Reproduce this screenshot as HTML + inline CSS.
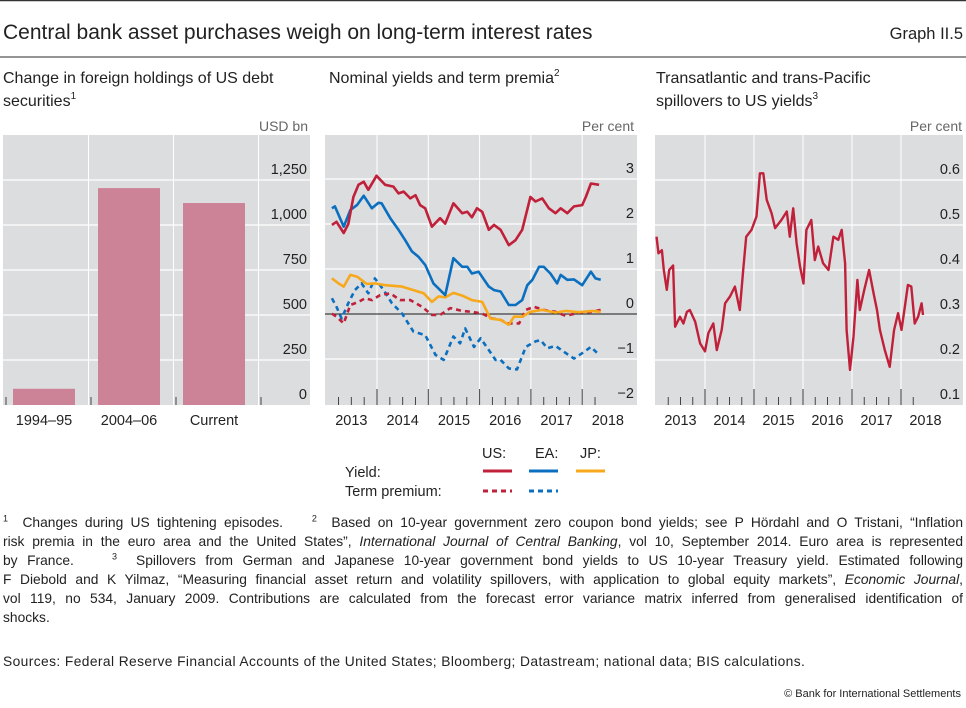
<!DOCTYPE html>
<html><head><meta charset="utf-8"><style>
body{margin:0;width:966px;height:708px;background:#fff;font-family:"Liberation Sans",sans-serif;color:#222;overflow:hidden;position:relative}
svg{position:absolute;left:0;top:0}
.fl{position:absolute;left:3px;width:960px;font-size:13.8px;line-height:19px;height:19px;white-space:nowrap;text-align:justify;text-align-last:justify}
.fl.last{text-align-last:left}
.fl sup{font-size:9px;line-height:0}
</style></head><body>
<svg width="966" height="708" font-family="Liberation Sans, sans-serif">
<line x1="0" y1="0.5" x2="966" y2="0.5" stroke="#333" stroke-width="1.5"/>
<text x="3" y="39" font-size="21" fill="#222">Central bank asset purchases weigh on long-term interest rates</text>
<text x="963" y="39" font-size="16.5" text-anchor="end" fill="#222">Graph II.5</text>
<line x1="0" y1="57" x2="966" y2="57" stroke="#555" stroke-width="1.2"/>
<g font-size="16" fill="#222">
<text x="3" y="83">Change in foreign holdings of US debt</text>
<text x="3" y="106">securities<tspan font-size="10" dy="-7">1</tspan></text>
<text x="329" y="83">Nominal yields and term premia<tspan font-size="10" dy="-7">2</tspan></text>
<text x="656" y="83">Transatlantic and trans-Pacific</text>
<text x="656" y="106">spillovers to US yields<tspan font-size="10" dy="-7">3</tspan></text>
</g>
<g font-size="14" fill="#666" text-anchor="end">
<text x="308" y="131">USD bn</text>
<text x="634" y="131">Per cent</text>
<text x="962" y="131">Per cent</text>
</g>
<g id="p1"></g><g id="p2"></g><g id="p3"></g>
<g font-size="14.5" fill="#222">
<text x="482" y="458">US:</text>
<text x="535" y="458">EA:</text>
<text x="580" y="458">JP:</text>
<text x="345" y="477">Yield:</text>
<text x="345" y="496">Term premium:</text>
<line x1="483" y1="471" x2="512" y2="471" stroke="#c0203a" stroke-width="3"/>
<line x1="529" y1="471" x2="558" y2="471" stroke="#0b6fc0" stroke-width="3"/>
<line x1="576" y1="471" x2="605" y2="471" stroke="#f7a81b" stroke-width="3"/>
<line x1="483" y1="491" x2="512" y2="491" stroke="#c0203a" stroke-width="3" stroke-dasharray="5,4"/>
<line x1="529" y1="491" x2="558" y2="491" stroke="#0b6fc0" stroke-width="3" stroke-dasharray="5,4"/>
</g>
<text x="961" y="697" font-size="11" text-anchor="end" fill="#222">© Bank for International Settlements</text>
</svg>
<div>
<div class="fl" style="top:513px"><sup>1</sup>&nbsp; Changes during US tightening episodes.&nbsp;&nbsp;&nbsp; <sup>2</sup>&nbsp; Based on 10-year government zero coupon bond yields; see P Hördahl and O Tristani, “Inflation</div>
<div class="fl" style="top:532px">risk premia in the euro area and the United States”, <i>International Journal of Central Banking</i>, vol 10, September 2014. Euro area is represented</div>
<div class="fl" style="top:551px">by France.&nbsp;&nbsp;&nbsp; <sup>3</sup>&nbsp; Spillovers from German and Japanese 10-year government bond yields to US 10-year Treasury yield. Estimated following</div>
<div class="fl" style="top:570px">F Diebold and K Yilmaz, “Measuring financial asset return and volatility spillovers, with application to global equity markets”, <i>Economic Journal</i>,</div>
<div class="fl" style="top:589px">vol 119, no 534, January 2009. Contributions are calculated from the forecast error variance matrix inferred from generalised identification of</div>
<div class="fl last" style="top:608px">shocks.</div>
</div>
<div class="fl last" style="top:652px;letter-spacing:0.4px">Sources: Federal Reserve Financial Accounts of the United States; Bloomberg; Datastream; national data; BIS calculations.</div>
<script>
const NS="http://www.w3.org/2000/svg";
// Panel 1 data
const barCats=["1994–95","2004–06","Current"];
const barVals=[90,1205,1122];
const p1Ticks=[0,250,500,750,1000,1250];
const p1TickLabels=["0","250","500","750","1,000","1,250"];
// Panel 2 data (t = years since start of 2013)
const usT=[0.12,0.21,0.35,0.44,0.54,0.64,0.74,0.83,0.99,1.16,1.32,1.42,1.52,1.65,1.75,1.84,1.94,2.07,2.23,2.33,2.49,2.66,2.76,2.85,2.95,3.05,3.18,3.28,3.41,3.57,3.70,3.83,3.99,4.09,4.22,4.35,4.48,4.58,4.71,4.84,5.00,5.07,5.17,5.33];
const usYield=[1.98,2.05,1.8,2.0,2.6,2.87,2.94,2.76,3.07,2.87,2.83,2.68,2.72,2.57,2.64,2.42,2.35,1.94,2.13,2.01,2.46,2.24,2.27,2.15,2.35,2.27,1.87,1.98,1.87,1.53,1.64,1.87,2.6,2.5,2.57,2.35,2.24,2.35,2.24,2.39,2.42,2.6,2.9,2.87];
const eaT=[0.12,0.18,0.35,0.48,0.61,0.74,0.90,1.03,1.09,1.26,1.42,1.55,1.68,1.81,1.94,2.10,2.33,2.49,2.66,2.76,2.85,2.98,3.18,3.28,3.41,3.57,3.70,3.83,3.93,4.03,4.16,4.25,4.38,4.51,4.58,4.71,4.84,5.00,5.17,5.26,5.36];
const eaYield=[2.35,2.39,1.94,2.31,2.42,2.63,2.35,2.47,2.46,2.13,1.87,1.64,1.39,1.27,1.09,0.68,0.42,1.24,1.05,1.05,0.9,0.94,0.61,0.53,0.5,0.2,0.2,0.31,0.64,0.76,1.05,1.05,0.9,0.68,0.87,0.76,0.77,0.64,0.94,0.79,0.76];
const jpT=[0.12,0.25,0.35,0.48,0.61,0.80,0.96,1.16,1.49,1.71,1.91,2.07,2.20,2.33,2.49,2.66,2.85,3.05,3.21,3.41,3.57,3.67,3.83,3.99,4.22,4.48,4.68,4.94,5.20,5.36];
const jpYield=[0.79,0.68,0.61,0.87,0.83,0.67,0.68,0.64,0.61,0.53,0.46,0.27,0.39,0.37,0.47,0.41,0.31,0.27,-0.1,-0.13,-0.24,-0.06,-0.06,0.05,0.09,0.03,0.07,0.04,0.07,0.05];
const usTpT=[0.12,0.21,0.35,0.48,0.64,0.77,0.90,1.06,1.26,1.45,1.65,1.88,2.07,2.23,2.43,2.66,2.85,3.05,3.24,3.41,3.54,3.77,3.90,4.06,4.25,4.48,4.68,4.94,5.20,5.36];
const usPremium=[0.01,-0.06,-0.21,0.2,0.27,0.35,0.31,0.42,0.46,0.31,0.31,0.16,-0.02,-0.02,0.13,0.07,0.05,0.01,-0.1,-0.13,-0.21,-0.21,0.09,0.16,0.09,0.05,-0.04,0.03,0.05,0.09];
const eaTpT=[0.12,0.21,0.31,0.44,0.57,0.70,0.83,0.96,1.13,1.29,1.49,1.71,1.94,2.14,2.30,2.49,2.62,2.72,2.89,3.02,3.18,3.31,3.41,3.57,3.73,3.90,4.09,4.19,4.32,4.48,4.68,4.84,5.04,5.17,5.33];
const eaPremium=[0.35,0.16,-0.1,0.24,0.53,0.68,0.46,0.79,0.53,0.24,0.01,-0.39,-0.47,-0.91,-1.02,-0.5,-0.65,-0.32,-0.73,-0.54,-0.8,-1.02,-1.02,-1.21,-1.23,-0.73,-0.61,-0.58,-0.76,-0.71,-0.87,-0.99,-0.84,-0.73,-0.91];
const p2Ticks=[-2,-1,0,1,2,3];
const p2TickLabels=["−2","−1","0","1","2","3"];
const yearLabels=["2013","2014","2015","2016","2017","2018"];
// Panel 3 data
const spT=[0.01,0.05,0.12,0.16,0.22,0.27,0.35,0.39,0.49,0.56,0.63,0.69,0.80,0.90,1.00,1.07,1.17,1.24,1.34,1.41,1.51,1.61,1.71,1.78,1.84,1.95,2.05,2.12,2.19,2.26,2.36,2.43,2.56,2.67,2.73,2.80,2.87,2.94,3.01,3.07,3.17,3.24,3.31,3.41,3.52,3.62,3.72,3.79,3.86,3.89,3.96,4.03,4.11,4.16,4.25,4.35,4.44,4.51,4.57,4.67,4.77,4.86,4.94,5.01,5.08,5.14,5.21,5.28,5.35,5.42,5.45];
const spillover=[0.474,0.437,0.444,0.40,0.356,0.40,0.41,0.274,0.296,0.281,0.307,0.311,0.285,0.237,0.219,0.26,0.281,0.222,0.267,0.326,0.341,0.363,0.311,0.40,0.474,0.489,0.519,0.615,0.615,0.556,0.526,0.493,0.511,0.53,0.474,0.537,0.459,0.407,0.37,0.489,0.511,0.422,0.452,0.415,0.40,0.474,0.467,0.489,0.415,0.267,0.178,0.252,0.378,0.311,0.356,0.40,0.348,0.311,0.267,0.222,0.185,0.267,0.304,0.267,0.319,0.367,0.363,0.281,0.296,0.326,0.30];
const p3Ticks=[0.1,0.2,0.3,0.4,0.5,0.6];
const p3TickLabels=["0.1","0.2","0.3","0.4","0.5","0.6"];

function mk(parent,tag,attrs){const e=document.createElementNS(NS,tag);for(const k in attrs)e.setAttribute(k,attrs[k]);parent.appendChild(e);return e;}

// Panel 1
(function(){
 const g=document.getElementById('p1');
 const x0=3,x1=310,yTop=135,yBot=405;
 const y=v=>yBot-v*45/250;
 const bg=mk(g,'rect',{x:x0,y:yTop,width:x1-x0,height:yBot-yTop,fill:'#dcdddf'});
 
 
 const slot=85;
 for(let i=1;i<=3;i++){const l=mk(g,'line',{x1:x0+slot*i+0.5,y1:yTop,x2:x0+slot*i+0.5,y2:yBot,stroke:'#fff','stroke-width':1});
  
  }
 p1Ticks.forEach((v,i)=>{
  if(v>0){const l=mk(g,'line',{x1:x0,y1:y(v),x2:x1,y2:y(v),stroke:'#fff','stroke-width':1.3});
   
   }
  const t=mk(g,'text',{x:307,y:y(v)-6,'font-size':14.5,'text-anchor':'end',fill:'#222'});t.textContent=p1TickLabels[i];
  
  
 });
 barCats.forEach((c,i)=>{
  const bx=x0+slot*i+10;
  const r=mk(g,'rect',{x:bx,y:y(barVals[i]),width:62,height:yBot-y(barVals[i]),fill:'#cd8397'});
  
  
  const t=mk(g,'text',{x:bx+31,y:425,'font-size':14.5,'text-anchor':'middle',fill:'#222'});t.textContent=c;
  
  
 });
 for(let i=0;i<=3;i++){const l=mk(g,'line',{x1:x0+slot*i+3,y1:yBot-8,x2:x0+slot*i+3,y2:yBot,stroke:'#444','stroke-width':1});
  
  }
})();

function timePanel(gid,x0,x1,yTop,yBot,xStart,yrW,yFn,ticks,tickLabels,labX,name){
 const g=document.getElementById(gid);
 const bg=mk(g,'rect',{x:x0,y:yTop,width:x1-x0,height:yBot-yTop,fill:'#dcdddf'});
 
 
 for(let k=1;k<=5;k++){const l=mk(g,'line',{x1:xStart+k*yrW,y1:yTop,x2:xStart+k*yrW,y2:yBot,stroke:'#fff','stroke-width':1});
  
  }
 ticks.forEach((v,i)=>{
  const yy=yFn(v);
  if(yy<yBot-2){const l=mk(g,'line',{x1:x0,y1:yy,x2:x1,y2:yy,stroke:'#fff','stroke-width':1.3});
   
   }
  const t=mk(g,'text',{x:labX,y:Math.min(yy-6,yBot-6),'font-size':14.5,'text-anchor':'end',fill:'#222'});t.textContent=tickLabels[i];
  
  
 });
 for(let q=1;q<22;q++){const xx=xStart+q*yrW/4;const major=q%4==0;
  const l=mk(g,'line',{x1:xx,y1:yBot-(major?16:8),x2:xx,y2:yBot,stroke:'#444','stroke-width':1});
  
  }
 yearLabels.forEach((s,k)=>{const t=mk(g,'text',{x:xStart+k*yrW+yrW/2,y:425,'font-size':14.5,'text-anchor':'middle',fill:'#222'});t.textContent=s;
  
  });
 return g;
}
function line(g,ts,vs,xFn,yFn,color,dash,nm,w){
 const d=ts.map((t,i)=>(i?'L':'M')+xFn(t).toFixed(1)+','+yFn(vs[i]).toFixed(1)).join('');
 const p=mk(g,'path',{d:d,fill:'none',stroke:color,'stroke-width':w||2.6,'stroke-linejoin':'round'});
 if(dash)p.setAttribute('stroke-dasharray',dash);
 
 
}
// Panel 2
(function(){
 const xS=325.7,yrW=51.3;const x=t=>xS+t*yrW;const y=v=>314-v*45;
 const g=timePanel('p2',325,637,135,405,xS,yrW,y,p2Ticks,p2TickLabels,634,'panel2');
 const z=mk(g,'line',{x1:325,y1:314,x2:637,y2:314,stroke:'#111','stroke-width':1.1});
 
 
 line(g,eaTpT,eaPremium,x,y,'#0b6fc0','5,4','ea-term-premium-line');
 line(g,usTpT,usPremium,x,y,'#c0203a','5,4','us-term-premium-line');
 line(g,jpT,jpYield,x,y,'#f7a81b',null,'jp-yield-line');
 line(g,eaT,eaYield,x,y,'#0b6fc0',null,'ea-yield-line');
 line(g,usT,usYield,x,y,'#c0203a',null,'us-yield-line');
})();
// Panel 3
(function(){
 const xS=656,yrW=49;const x=t=>xS+t*yrW;const y=v=>180+(0.6-v)*450;
 const g=timePanel('p3',655,963,135,405,xS,yrW,y,p3Ticks,p3TickLabels,960,'panel3');
 line(g,spT,spillover,x,y,'#c0203a',null,'spillover-line',2.4);
})();
</script>
</body></html>
